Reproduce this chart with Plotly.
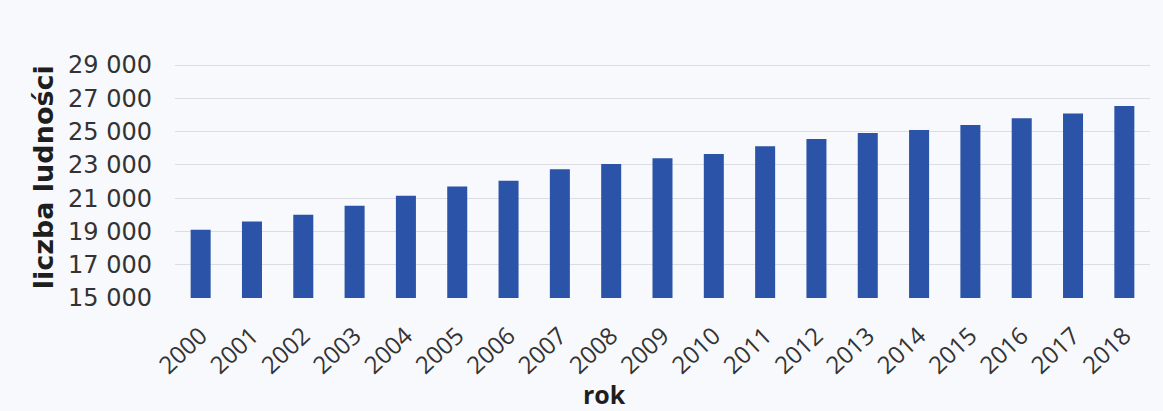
import plotly.graph_objects as go

# Liczba ludności w latach 2000-2018
years = ["2000", "2001", "2002", "2003", "2004", "2005", "2006", "2007", "2008", "2009",
         "2010", "2011", "2012", "2013", "2014", "2015", "2016", "2017", "2018"]
population = [19100, 19600, 20000, 20550, 21150, 21700, 22050, 22730, 23050, 23400,
              23650, 24120, 24560, 24920, 25100, 25400, 25800, 26080, 26540]

y_tick_values = [15000, 17000, 19000, 21000, 23000, 25000, 27000, 29000]
y_tick_labels = ["15 000", "17 000", "19 000", "21 000", "23 000", "25 000", "27 000", "29 000"]

BAR_COLOR = "#2b53a7"
BG = "#f8f9fd"
GRID = "#dcdde4"
TEXT = "#333333"

fig = go.Figure(
    go.Bar(
        x=years,
        y=population,
        base=0,
        marker=dict(color=BAR_COLOR, line=dict(width=0)),
    )
)

fig.update_layout(
    width=1163,
    height=411,
    margin=dict(l=175, r=13, t=63, b=113),
    paper_bgcolor=BG,
    plot_bgcolor=BG,
    bargap=0.61,
    showlegend=False,
    xaxis=dict(
        type="category",
        range=[-0.5, 18.5],
        tickangle=-43,
        tickfont=dict(family="Open Sans", size=24, color=TEXT),
        ticklabelstandoff=18,
        showgrid=False,
        showline=False,
        zeroline=False,
        ticks="",
    ),
    yaxis=dict(
        range=[15000, 29120],
        tickvals=y_tick_values,
        ticktext=y_tick_labels,
        tickfont=dict(family="DejaVu Sans", size=24, color=TEXT),
        ticklabelstandoff=22,
        showgrid=True,
        gridcolor=GRID,
        gridwidth=1,
        zeroline=False,
        showline=False,
        ticks="",
    ),
    annotations=[
        dict(
            text="<b>liczba ludności</b>",
            xref="paper", yref="paper",
            x=-0.134, y=0.515,
            xanchor="center", yanchor="middle",
            textangle=-90,
            showarrow=False,
            font=dict(family="DejaVu Sans", size=27, color="#1e1e1e"),
        ),
        dict(
            text="<b>rok</b>",
            xref="paper", yref="paper",
            x=0.44, y=-0.41,
            xanchor="center", yanchor="middle",
            showarrow=False,
            font=dict(family="Open Sans", size=25, color="#1e1e1e"),
        ),
    ],
)

fig.write_html("out.html")
